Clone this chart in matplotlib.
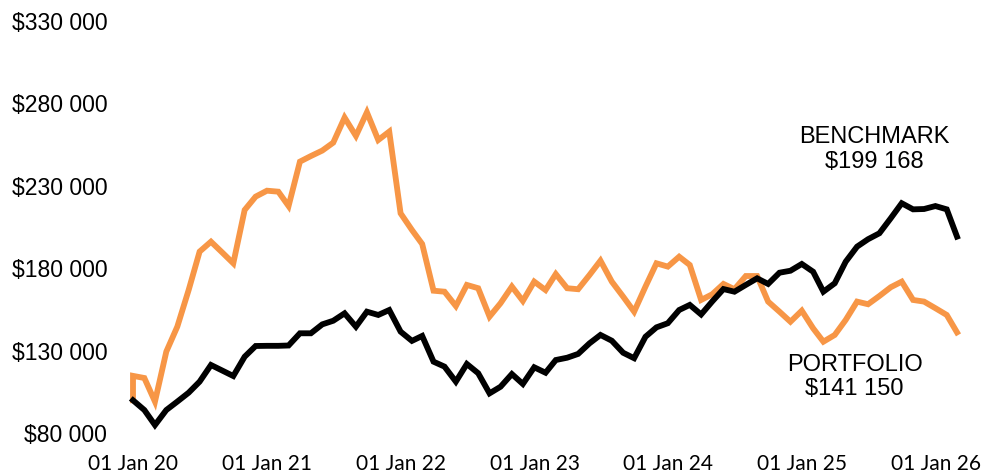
import matplotlib
matplotlib.use("Agg")
import matplotlib.pyplot as plt
import matplotlib.dates as mdates
import pandas as pd

# month-end valuation dates, Dec 2019 .. Feb 2026
dates = pd.date_range("2019-12-31", periods=75, freq="ME")

benchmark = [
    100000, 94100, 85000, 94100, 99200, 104600, 111300, 121400, 118000, 114700,
    126400, 132900, 133000, 133000, 133200, 140600, 140600, 146000, 148200, 152700,
    144600, 153700, 151700, 154700, 141600, 136000, 139000, 123400, 120400, 111300,
    122000, 116400, 104200, 108200, 115900, 109900, 120000, 116700, 124400, 125800,
    128100, 134500, 139600, 136100, 128800, 125500, 138500, 144200, 146700, 154700,
    157800, 152000, 159800, 167400, 165800, 169900, 173900, 170500, 177300, 178500,
    182600, 177900, 165800, 170900, 184000, 193100, 197600, 201200, 210300, 219400,
    215700, 215900, 217700, 215700, 199168,
]

portfolio_start = 100000
portfolio = [
    114800, 113500, 99200, 129500, 144600, 166800, 190100, 196100, 189500, 183000,
    215300, 223400, 227000, 226400, 217700, 244600, 248000, 251300, 256100, 271300,
    260200, 274500, 257700, 262800, 213300, 203200, 194700, 166400, 165800, 157100,
    169900, 167900, 150700, 158800, 168900, 160200, 171900, 166800, 176500, 167900,
    167300, 175900, 184600, 171900, 162800, 153700, 168900, 183000, 181000, 187000,
    182000, 160800, 164200, 170500, 167300, 175300, 175300, 159800, 153700, 147600,
    154300, 143600, 135500, 139600, 148700, 159800, 158200, 163200, 168500, 171900,
    160800, 159800, 155800, 151700, 141150,
]

y_ticks = [80000, 130000, 180000, 230000, 280000, 330000]
x_ticks = pd.date_range("2020-01-01", "2026-01-01", freq="YS")

ORANGE = "#F79646"


def money(v):
    return "$" + f"{v:,.0f}".replace(",", " ")


fig = plt.figure(figsize=(9.82, 4.74), dpi=100)
W, H = 982, 474
ax = fig.add_axes([133 / W, 1 - 433.3 / H, (957 - 133) / W, (433.3 - 20.7) / H])

port_dates = [dates[0]] + list(dates)
port_vals = [portfolio_start] + portfolio
ax.plot(port_dates, port_vals, color=ORANGE, lw=4.2, clip_on=False,
        solid_joinstyle="miter", zorder=2)
ax.plot(dates, benchmark, color="black", lw=4.2, clip_on=False,
        solid_joinstyle="miter", zorder=3)

ax.set_xlim(dates[0], dates[-1])
ax.set_ylim(y_ticks[0], y_ticks[-1])
ax.set_yticks(y_ticks)
ax.set_yticklabels([money(v) for v in y_ticks], family="Liberation Sans", fontsize=16.6)
ax.set_xticks(x_ticks)
ax.xaxis.set_major_formatter(mdates.DateFormatter("%d %b %y"))
for lab in ax.get_xticklabels():
    lab.set_family("Lato")
    lab.set_fontsize(15)

ax.tick_params(axis="y", length=0, pad=18.5)
ax.tick_params(axis="x", length=0, pad=15)
for s in ax.spines.values():
    s.set_visible(False)

fig.text(874 / W, 1 - 149.5 / H, "BENCHMARK\n" + money(benchmark[-1]),
         ha="center", va="center", fontsize=17, family="Liberation Sans",
         linespacing=1.15)
fig.text(854.7 / W, 1 - 377 / H, "PORTFOLIO\n" + money(portfolio[-1]),
         ha="center", va="center", fontsize=17, family="Liberation Sans",
         linespacing=1.15)

fig.savefig("out.png", dpi=100)
